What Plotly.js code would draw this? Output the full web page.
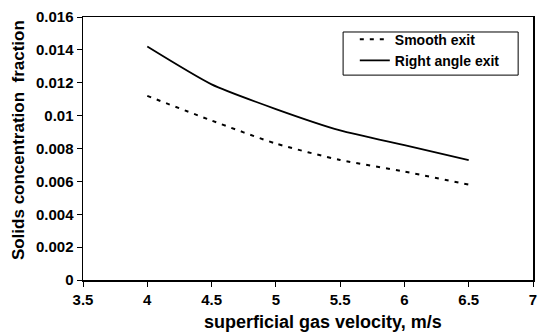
<!DOCTYPE html>
<html>
<head>
<meta charset="utf-8">
<script src="https://cdn.plot.ly/plotly-3.0.1.min.js"></script>
<style>html,body{margin:0;padding:0;background:#fff;}#chart{width:542px;height:334px;}</style>
</head>
<body>
<div id="chart"></div>
<script>
const velocity = [4, 4.5, 5, 5.5, 6, 6.5];
const smoothExit = [0.0112, 0.0097, 0.0083, 0.0073, 0.0066, 0.0058];
const rightAngleExit = [0.0142, 0.0119, 0.0104, 0.0091, 0.0082, 0.0073];
const seriesNames = ['Smooth exit', 'Right angle exit'];
const xTickVals = [3.5, 4, 4.5, 5, 5.5, 6, 6.5, 7];
const xTickText = ['3.5', '4', '4.5', '5', '5.5', '6', '6.5', '7'];
const yTickVals = [0, 0.002, 0.004, 0.006, 0.008, 0.01, 0.012, 0.014, 0.016];
const yTickText = ['0', '0.002', '0.004', '0.006', '0.008', '0.01', '0.012', '0.014', '0.016'];
const xTitle = 'superficial gas velocity, m/s';
const yTitle = 'Solids concentration  fraction';
const fontFam = '"Liberation Sans", Arial, sans-serif';

const traces = [
  {x: velocity, y: smoothExit, name: seriesNames[0], mode: 'lines', type: 'scatter',
   line: {color: '#000', width: 2, dash: '4px,6px', shape: 'spline', smoothing: 0.6}},
  {x: velocity, y: rightAngleExit, name: seriesNames[1], mode: 'lines', type: 'scatter',
   line: {color: '#000', width: 1.8, shape: 'spline', smoothing: 0.6}}
];

const bold = s => '<b>' + s + '</b>';

const layout = {
  width: 542, height: 334,
  margin: {l: 83, r: 9, t: 17, b: 54},
  paper_bgcolor: '#fff', plot_bgcolor: '#fff',
  font: {family: fontFam, color: '#000', size: 14, weight: 700},
  showlegend: true,
  legend: {x: 0.604, y: 0.975, xanchor: 'left', yanchor: 'top',
           borderwidth: 0, bgcolor: 'rgba(0,0,0,0)',
           font: {family: fontFam, size: 14, color: '#000', weight: 700},
           tracegroupgap: 0, itemwidth: 30},
  shapes: [{type: 'rect', xref: 'paper', yref: 'paper', x0: 0.578, x1: 0.967, y0: 0.779, y1: 0.943,
            line: {color: '#000', width: 1}, fillcolor: 'rgba(0,0,0,0)'}],
  annotations: [
    {text: bold(xTitle), xref: 'paper', yref: 'paper', x: 0.533, y: -0.16,
     xanchor: 'center', yanchor: 'middle', showarrow: false,
     font: {family: fontFam, size: 18, color: '#000', weight: 700}},
    {text: bold(yTitle), xref: 'paper', yref: 'paper', x: -0.1444, y: 0.532, textangle: -90,
     xanchor: 'center', yanchor: 'middle', showarrow: false,
     font: {family: fontFam, size: 17, color: '#000', weight: 700}}
  ],
  xaxis: {range: [3.5, 7], tickvals: xTickVals, ticktext: xTickText.map(bold),
          showgrid: false, zeroline: false,
          showline: true, linecolor: '#000', linewidth: 1.5, mirror: true,
          ticks: 'outside', ticklen: 5, tickcolor: '#000',
          tickfont: {family: fontFam, size: 15, color: '#000', weight: 700}},
  yaxis: {range: [0, 0.016], tickvals: yTickVals, ticktext: yTickText.map(bold),
          showgrid: false, zeroline: false,
          showline: true, linecolor: '#000', linewidth: 1.5, mirror: true,
          ticks: 'outside', ticklen: 5, tickcolor: '#000',
          tickfont: {family: fontFam, size: 15, color: '#000', weight: 700}}
};

Plotly.newPlot('chart', traces, layout, {staticPlot: true, displayModeBar: false});
</script>
</body>
</html>
